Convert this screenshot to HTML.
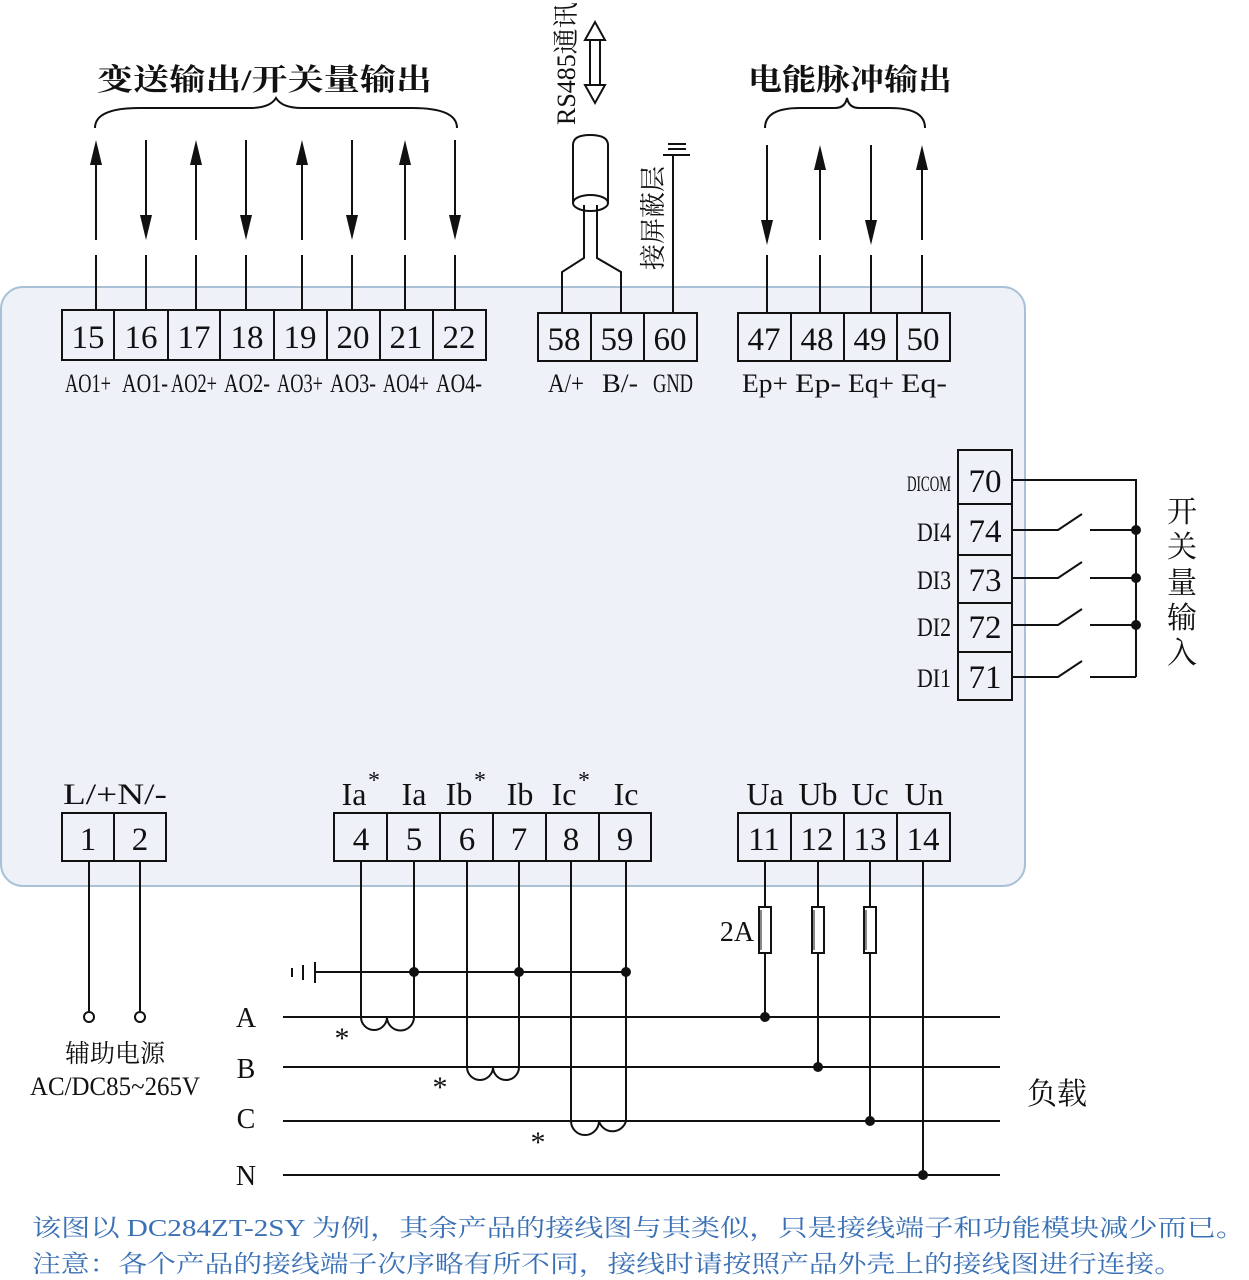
<!DOCTYPE html>
<html><head><meta charset="utf-8"><style>
html,body{margin:0;padding:0;background:#fff;}
svg{display:block;}
.n{font-family:"Liberation Serif","Noto Serif CJK SC",serif;font-size:33px;fill:#111;text-anchor:middle;}
.l{font-family:"Liberation Serif","Noto Serif CJK SC",serif;font-size:26px;fill:#111;text-anchor:middle;}
.c{font-family:"Liberation Serif","Noto Serif CJK SC",serif;fill:#111;}
.b{font-family:"Liberation Serif","Noto Serif CJK SC",serif;font-size:24px;fill:#3a70b4;}
</style></head><body>
<svg width="1249" height="1280" viewBox="0 0 1249 1280" xmlns="http://www.w3.org/2000/svg">
<rect x="1" y="287" width="1024" height="599" rx="22" fill="#eef1f8" stroke="#a9c1d6" stroke-width="2"/>
<g stroke="#111" stroke-width="2" fill="none">
<rect x="62" y="310" width="424" height="50" fill="#eef1f8"/>
<path d="M114 310V360M168 310V360M220 310V360M274 310V360M327 310V360M380 310V360M433 310V360"/>
<rect x="538" y="313" width="159" height="48"/>
<path d="M591 313V361M644 313V361"/>
<rect x="738" y="313" width="212" height="48"/>
<path d="M791 313V361M844 313V361M897 313V361"/>
<rect x="958" y="450" width="54" height="250"/>
<path d="M958 504H1012M958 555H1012M958 603H1012M958 652H1012"/>
<rect x="62" y="813" width="104" height="48"/>
<path d="M114 813V861"/>
<rect x="334" y="813" width="317" height="48"/>
<path d="M387 813V861M440 813V861M493 813V861M546 813V861M599 813V861"/>
<rect x="738" y="813" width="212" height="48"/>
<path d="M791 813V861M844 813V861M897 813V861"/>
<path d="M96 150V240M96 255V310M146 140V225M146 255V310M196 150V240M196 255V310M246 140V225M246 255V310M302 150V240M302 255V310M352 140V225M352 255V310M405 150V240M405 255V310M455 140V225M455 255V310"/>
<path d="M95 128Q95 108 140 108H250Q270 108 276 98Q282 108 302 108H412Q457 108 457 128"/>
<path d="M767 145V230M767 255V313M820 160V240M820 255V313M871 145V230M871 255V313M922 160V240M922 255V313"/>
<path d="M765 128Q765 108 800 108H835Q845 108 847 98Q849 108 859 108H890Q925 108 925 128"/>
<path d="M573 145V203M608 145V203M573 145Q573 135 590 135Q608 135 608 145"/>
<ellipse cx="590.5" cy="203" rx="17.5" ry="8"/>
<path d="M584 205V258L562 272V313M597 205V258L621 272V313"/>
<path d="M673 155V313M663 155H690M668 149H686M668 144H686" />
<path d="M585 40L595 22L605 40ZM585 85L595 103L605 85Z" fill="#fff"/>
<path d="M590 40V85M600 40V85"/>
<path d="M1012 480H1136V677M1012 530H1058L1082 514M1090 530H1136M1012 578H1058L1082 562M1090 578H1136M1012 625H1058L1082 609M1090 625H1136M1012 677H1058L1082 661M1090 677H1136"/>
<path d="M89 861V1011M140 861V1011"/>
<circle cx="89" cy="1017" r="5" fill="#fff"/><circle cx="140" cy="1017" r="5" fill="#fff"/>
<path d="M283 1017H1000M283 1067H1000M283 1121H1000M283 1175H1000"/>
<path d="M315 972H626M315 962V983M303 965V980M292 968V977"/>
<path d="M361 861V1017A13 13 0 0 0 387 1017A13 13 0 0 0 414 1017V861"/>
<path d="M467 861V1067A13 13 0 0 0 493 1067A13 13 0 0 0 519 1067V861"/>
<path d="M571 861V1121A14 14 0 0 0 599 1121A14 14 0 0 0 626 1121V861"/>
<path d="M765 861V1017M818 861V1067M870 861V1121M923 861V1175"/>
<rect x="759" y="907" width="12" height="46" fill="#fff"/>
<rect x="812" y="907" width="12" height="46" fill="#fff"/>
<rect x="864" y="907" width="12" height="46" fill="#fff"/>
<path d="M761 910V950M814 910V950M866 910V950" stroke-width="1"/>
</g>
<g fill="#111">
<path d="M96 140L90 165H102ZM196 140L190 165H202ZM302 140L296 165H308ZM405 140L399 165H411ZM146 240L140 215H152ZM246 240L240 215H252ZM352 240L346 215H358ZM455 240L449 215H461ZM820 145L814 170H826ZM922 145L916 170H928ZM767 245L761 220H773ZM871 245L865 220H877Z"/>
<circle cx="1136" cy="530" r="5"/><circle cx="1136" cy="578" r="5"/><circle cx="1136" cy="625" r="5"/>
<circle cx="414" cy="972" r="5"/><circle cx="519" cy="972" r="5"/><circle cx="626" cy="972" r="5"/>
<circle cx="765" cy="1017" r="5"/><circle cx="818" cy="1067" r="5"/><circle cx="870" cy="1121" r="5"/><circle cx="923" cy="1175" r="5"/>
</g>
<g class="n">
<text x="88" y="348">15</text><text x="141" y="348">16</text><text x="194" y="348">17</text><text x="247" y="348">18</text><text x="300" y="348">19</text><text x="353" y="348">20</text><text x="406" y="348">21</text><text x="459" y="348">22</text>
<text x="564" y="350">58</text><text x="617" y="350">59</text><text x="670" y="350">60</text>
<text x="764" y="350">47</text><text x="817" y="350">48</text><text x="870" y="350">49</text><text x="923" y="350">50</text>
<text x="985" y="492">70</text><text x="985" y="542">74</text><text x="985" y="591">73</text><text x="985" y="638">72</text><text x="985" y="688">71</text>
<text x="88" y="850">1</text><text x="140" y="850">2</text>
<text x="361" y="850">4</text><text x="414" y="850">5</text><text x="467" y="850">6</text><text x="519" y="850">7</text><text x="571" y="850">8</text><text x="625" y="850">9</text>
<text x="764" y="850">11</text><text x="817" y="850">12</text><text x="870" y="850">13</text><text x="923" y="850">14</text>
</g>
<g class="l">
<text x="88" y="392" textLength="46" lengthAdjust="spacingAndGlyphs">AO1+</text>
<text x="145" y="392" textLength="46" lengthAdjust="spacingAndGlyphs">AO1-</text>
<text x="194" y="392" textLength="46" lengthAdjust="spacingAndGlyphs">AO2+</text>
<text x="247" y="392" textLength="46" lengthAdjust="spacingAndGlyphs">AO2-</text>
<text x="300" y="392" textLength="46" lengthAdjust="spacingAndGlyphs">AO3+</text>
<text x="353" y="392" textLength="46" lengthAdjust="spacingAndGlyphs">AO3-</text>
<text x="406" y="392" textLength="46" lengthAdjust="spacingAndGlyphs">AO4+</text>
<text x="459" y="392" textLength="46" lengthAdjust="spacingAndGlyphs">AO4-</text>
<text x="566" y="392" textLength="36" lengthAdjust="spacingAndGlyphs">A/+</text>
<text x="620" y="392" textLength="36" lengthAdjust="spacingAndGlyphs">B/-</text>
<text x="673" y="392" textLength="40" lengthAdjust="spacingAndGlyphs">GND</text>
<text x="765" y="392" textLength="46" lengthAdjust="spacingAndGlyphs">Ep+</text>
<text x="818" y="392" textLength="46" lengthAdjust="spacingAndGlyphs">Ep-</text>
<text x="871" y="392" textLength="46" lengthAdjust="spacingAndGlyphs">Eq+</text>
<text x="924" y="392" textLength="46" lengthAdjust="spacingAndGlyphs">Eq-</text>
<text x="929" y="491" textLength="44" lengthAdjust="spacingAndGlyphs" font-size="22">DICOM</text>
<text x="934" y="541" textLength="34" lengthAdjust="spacingAndGlyphs">DI4</text>
<text x="934" y="589" textLength="34" lengthAdjust="spacingAndGlyphs">DI3</text>
<text x="934" y="636" textLength="34" lengthAdjust="spacingAndGlyphs">DI2</text>
<text x="934" y="687" textLength="34" lengthAdjust="spacingAndGlyphs">DI1</text>
<text x="115" y="804" textLength="104" lengthAdjust="spacingAndGlyphs" font-size="30">L/+N/-</text>
<text x="354" y="805" font-size="32">Ia</text><text x="374" y="788" font-size="24">*</text>
<text x="414" y="805" font-size="32">Ia</text>
<text x="459" y="805" font-size="32">Ib</text><text x="480" y="788" font-size="24">*</text>
<text x="520" y="805" font-size="32">Ib</text>
<text x="564" y="805" font-size="32">Ic</text><text x="584" y="788" font-size="24">*</text>
<text x="626" y="805" font-size="32">Ic</text>
<text x="765" y="805" font-size="32">Ua</text><text x="818" y="805" font-size="32">Ub</text><text x="870" y="805" font-size="32">Uc</text><text x="924" y="805" font-size="32">Un</text>
<text x="737" y="941" font-size="28">2A</text>
<text x="246" y="1027" font-size="28">A</text><text x="246" y="1078" font-size="28">B</text><text x="246" y="1128" font-size="28">C</text><text x="246" y="1185" font-size="28">N</text>
<text x="342" y="1048" font-size="30">*</text><text x="440" y="1097" font-size="30">*</text><text x="538" y="1152" font-size="30">*</text>
<text x="115" y="1062" font-size="25">辅助电源</text>
<text x="115" y="1095" font-size="26" textLength="170" lengthAdjust="spacingAndGlyphs">AC/DC85~265V</text>
</g>
<text class="c" x="97" y="90" font-size="30" font-weight="bold" textLength="335" lengthAdjust="spacingAndGlyphs">变送输出/开关量输出</text>
<text class="c" x="748" y="90" font-size="30" font-weight="bold" textLength="204" lengthAdjust="spacingAndGlyphs">电能脉冲输出</text>
<text class="c" x="1057" y="1104" font-size="30" text-anchor="middle">负载</text>
<g class="c" font-size="30" text-anchor="middle">
<text x="1182" y="522">开</text><text x="1182" y="557">关</text><text x="1182" y="593">量</text><text x="1182" y="628">输</text><text x="1182" y="663">入</text>
</g>
<text class="c" font-size="26" transform="translate(575,125) rotate(-90)">RS485通讯</text>
<text class="c" font-size="26" transform="translate(662,270) rotate(-90)">接屏蔽层</text>
<text class="b" x="32" y="1236" textLength="1213" lengthAdjust="spacingAndGlyphs">该图以 DC284ZT-2SY 为例，其余产品的接线图与其类似，只是接线端子和功能模块减少而已。</text>
<text class="b" x="32" y="1272" textLength="1151" lengthAdjust="spacingAndGlyphs">注意：各个产品的接线端子次序略有所不同，接线时请按照产品外壳上的接线图进行连接。</text>
</svg>
</body></html>
